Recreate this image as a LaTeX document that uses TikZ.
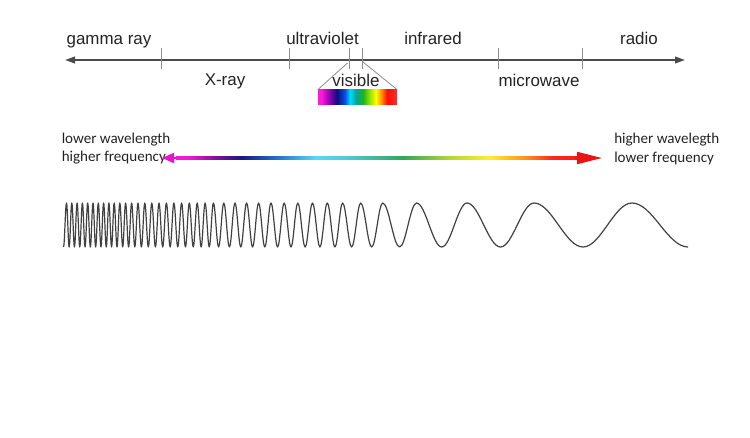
\documentclass[tikz,border=0pt]{standalone}
\usepackage{fontspec}
\setmainfont{Liberation Sans}
\newfontfamily\sidefont{Carlito}
\usepackage{tikz}
\usetikzlibrary{arrows.meta}
\definecolor{axisgray}{RGB}{75,75,75}
\definecolor{tickgray}{RGB}{140,140,140}
\definecolor{wavegray}{RGB}{65,65,65}
\definecolor{txtgray}{RGB}{35,35,35}
\definecolor{headmag}{RGB}{230,20,205}
\definecolor{headred}{RGB}{235,20,20}
% colour bands (the path is mapped onto 25bp..75bp)
\pgfdeclarehorizontalshading{visspec}{100bp}{rgb(0bp)=(1,0.1,0.85); rgb(25bp)=(1,0.1,0.85);
  rgb(27bp)=(1,0.1,0.85); rgb(32bp)=(0.6,0,0.7); rgb(37bp)=(0.05,0.05,0.5);
  rgb(42bp)=(0.05,0.3,0.9); rgb(45.3bp)=(0,0.85,1); rgb(49bp)=(0,0.65,0.6);
  rgb(53.5bp)=(0.1,0.7,0.15); rgb(57.9bp)=(0.6,0.9,0); rgb(61.7bp)=(1,1,0);
  rgb(64.9bp)=(1,0.6,0); rgb(68.7bp)=(1,0.05,0); rgb(75bp)=(0.95,0.2,0.2);
  rgb(100bp)=(0.95,0.2,0.2)}
\pgfdeclarehorizontalshading{bandspec}{100bp}{rgb(0bp)=(0.95,0.1,0.85); rgb(26.4bp)=(0.95,0.1,0.85);
  rgb(30bp)=(0.5,0.05,0.6); rgb(33bp)=(0.1,0.1,0.5); rgb(37.5bp)=(0.15,0.45,0.8);
  rgb(42.1bp)=(0.35,0.85,0.95); rgb(45.7bp)=(0.3,0.8,0.85); rgb(52.8bp)=(0.2,0.65,0.35);
  rgb(58.5bp)=(0.7,0.85,0.2); rgb(63.4bp)=(1,0.93,0.2); rgb(67.9bp)=(1,0.55,0.1);
  rgb(71bp)=(1,0.15,0.1); rgb(75bp)=(1,0.1,0.1); rgb(100bp)=(1,0.1,0.1)}

\begin{document}
\begin{tikzpicture}[x=0.75pt,y=-0.75pt,
  band/.style={font=\fontsize{12.7}{15}\selectfont,text=txtgray,inner sep=0,anchor=base},
  side/.style={font=\sidefont\fontsize{11.3}{14}\selectfont,text=txtgray,inner sep=0,align=left},
  axisline/.style={draw=axisgray,line width=1.3pt,
    {Triangle[length=7.5pt,width=5pt]}-{Triangle[length=7.5pt,width=5pt]}},
  tick/.style={draw=tickgray,line width=0.6pt},
  wave/.style={draw=wavegray,line width=0.9pt,line join=round}]

\useasboundingbox (0,0) rectangle (750,438);

% --- 1. spectrum axis
\coordinate (axleft) at (65,60);
\coordinate (axright) at (685,60);
\draw[axisline] (axleft) -- (axright);
\foreach \t in {161,289,349,362,498,582}
  \draw[tick] (\t,48) -- (\t,69);

\node[band] (gamma) at (109,45) {gamma ray};
\node[band] (uv) at (322.5,45) {ultraviolet};
\node[band] (ir) at (433,45) {infrared};
\node[band] (radio) at (639,45) {radio};
\node[band] (xray) at (225,86) {X-ray};
\node[band] (micro) at (539,86.5) {microwave};
\node[band] (vis) at (356,86.5) {visible};

% --- 2. visible window
\node[inner sep=0,minimum width=59.25pt,minimum height=11.25pt,shading=visspec,shade]
  (spec) at (357.5,97.5) {};
\draw[tick] (347.5,63) -- (spec.north west);
\draw[tick] (363,62) -- (spec.north east);

% --- 3. wavelength arrow
\node[side,anchor=base west] (lowtxt) at (61.5,162) {lower wavelength\\higher frequency};
\node[side,anchor=base west] (hightxt) at (614,162.5) {higher wavelegth\\lower frequency};
\coordinate (shortend) at (162,158);
\coordinate (longend) at (602,158);
\coordinate (barend) at (585,158);
\coordinate (magbase) at (176,158);
\coordinate (redbase) at (575,158);
\shade[shading=bandspec] ([yshift=-1pt]magbase) rectangle ([yshift=1pt]barend);
\draw[headmag,line width=1.5pt,-{Triangle[length=9pt,width=7.5pt]}] (magbase) -- (shortend);
\draw[headred,line width=1.5pt,-{Triangle[length=18.75pt,width=9pt]}] (redbase) -- (longend);

% --- 4. chirped wave
\draw[wave] (63.5,247) cos (65,225) sin (66.5,203)
  foreach \q [remember=\q as \p (initially 66.5)] in {71.8,77.1,82.4,87.7,93.0,98.3,103.6,
    108.9,114.2,119.8,125.6,131.6,138.0,144.8,151.8,159.0,166.4,173.9,181.6,189.3,197.2,
    205.1,213.4,223.8,235.0,246.6,258.6,271.0,284.2,297.8,312.5,327.3,342.6,360.7,382.7,
    416.5,467.0,534.0,632.0}
  { cos ({(3*\p+\q)/4},225) sin ({(\p+\q)/2},247) cos ({(\p+3*\q)/4},225) sin (\q,203) }
  cos (660,225) sin (688,247);
\end{tikzpicture}
\end{document}
